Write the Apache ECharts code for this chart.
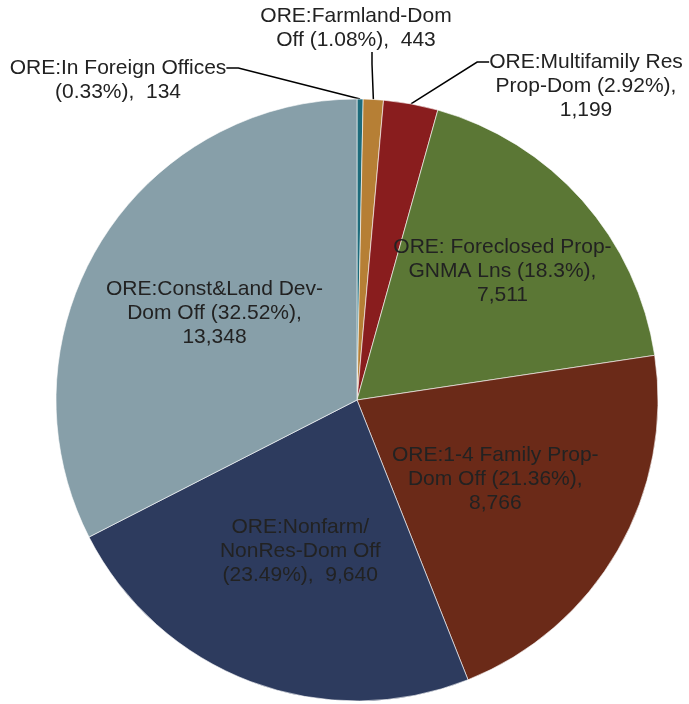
<!DOCTYPE html>
<html>
<head>
<meta charset="utf-8">
<script src="https://cdn.jsdelivr.net/npm/echarts@6/dist/echarts.min.js"></script>
<style>
  html, body { margin: 0; padding: 0; background: #fff; }
  #chart { width: 689px; height: 704px; }
</style>
</head>
<body>
<div id="chart"></div>
<script>
const categories = [
  'ORE:In Foreign Offices',
  'ORE:Farmland-Dom Off',
  'ORE:Multifamily Res Prop-Dom',
  'ORE: Foreclosed Prop-GNMA Lns',
  'ORE:1-4 Family Prop-Dom Off',
  'ORE:Nonfarm/NonRes-Dom Off',
  'ORE:Const&Land Dev-Dom Off'
];
const values = [134, 443, 1199, 7511, 8766, 9640, 13348];
const labelTemplates = [
  'ORE:In Foreign Offices\n({d}%),  {c}',
  'ORE:Farmland-Dom\nOff ({d}%),  {c}',
  'ORE:Multifamily Res\nProp-Dom ({d}%),\n{c}',
  'ORE: Foreclosed Prop-\nGNMA Lns ({d}%),\n{c}',
  'ORE:1-4 Family Prop-\nDom Off ({d}%),\n{c}',
  'ORE:Nonfarm/\nNonRes-Dom Off\n({d}%),  {c}',
  'ORE:Const&Land Dev-\nDom Off ({d}%),\n{c}'
];
const colors = ['#1d6b7b', '#b67f35', '#891d1e', '#5b7735', '#6b2a18', '#2d3b5e', '#879fa9'];

// layout settings
const CX = 357, CY = 400, R = 301;
const outside = [true, true, true, false, false, false, false];
const innerRadiusFactor = [0, 0, 0, 0.645, 0.53, 0.535, 0.555];
const outerLabelPos = [[118, 68], [372, 28], [586, 62]];
// blank lines above a label so its leader line meets the first text line
const leadBlankLines = [1, 0, 2, 0, 0, 0, 0];
const labelPadding = [0, [0, 32, 0, 0], 0, 0, 0, 0, 0];

const total = values.reduce((a, b) => a + b, 0);
const midAngles = [];
let acc = 0;
values.forEach(v => { midAngles.push((acc + v / 2) / total * Math.PI * 2); acc += v; });

const chart = echarts.init(document.getElementById('chart'), null, { renderer: 'canvas' });
chart.setOption({
  animation: false,
  backgroundColor: '#ffffff',
  series: [{
    type: 'pie',
    center: [CX, CY],
    radius: R,
    startAngle: 90,
    clockwise: true,
    avoidLabelOverlap: false,
    itemStyle: { borderColor: '#ffffff', borderWidth: 0.6 },
    emphasis: { disabled: true },
    label: {
      color: '#222222',
      fontSize: 21,
      fontFamily: '"Liberation Sans", Arial, sans-serif',
      lineHeight: 24,
      align: 'center',
      formatter: function (p) {
        const i = p.dataIndex;
        return '\n'.repeat(leadBlankLines[i]) + labelTemplates[i]
          .replace('{d}', p.percent)
          .replace('{c}', p.value.toLocaleString('en-US'));
      }
    },
    labelLine: {
      lineStyle: { color: '#000000', width: 1.5 },
      length: 10,
      length2: 12
    },
    labelLayout: function (params) {
      const i = params.dataIndex;
      if (outside[i]) {
        return { x: outerLabelPos[i][0], y: outerLabelPos[i][1], align: 'center', verticalAlign: 'middle' };
      }
      const a = midAngles[i];
      const rr = R * innerRadiusFactor[i];
      return { x: CX + rr * Math.sin(a), y: CY - rr * Math.cos(a), align: 'center', verticalAlign: 'middle' };
    },
    data: categories.map((name, i) => ({
      name: name,
      value: values[i],
      itemStyle: { color: colors[i] },
      label: { position: outside[i] ? 'outside' : 'inside', padding: labelPadding[i] },
      labelLine: { show: outside[i] }
    }))
  }]
});
</script>
</body>
</html>
